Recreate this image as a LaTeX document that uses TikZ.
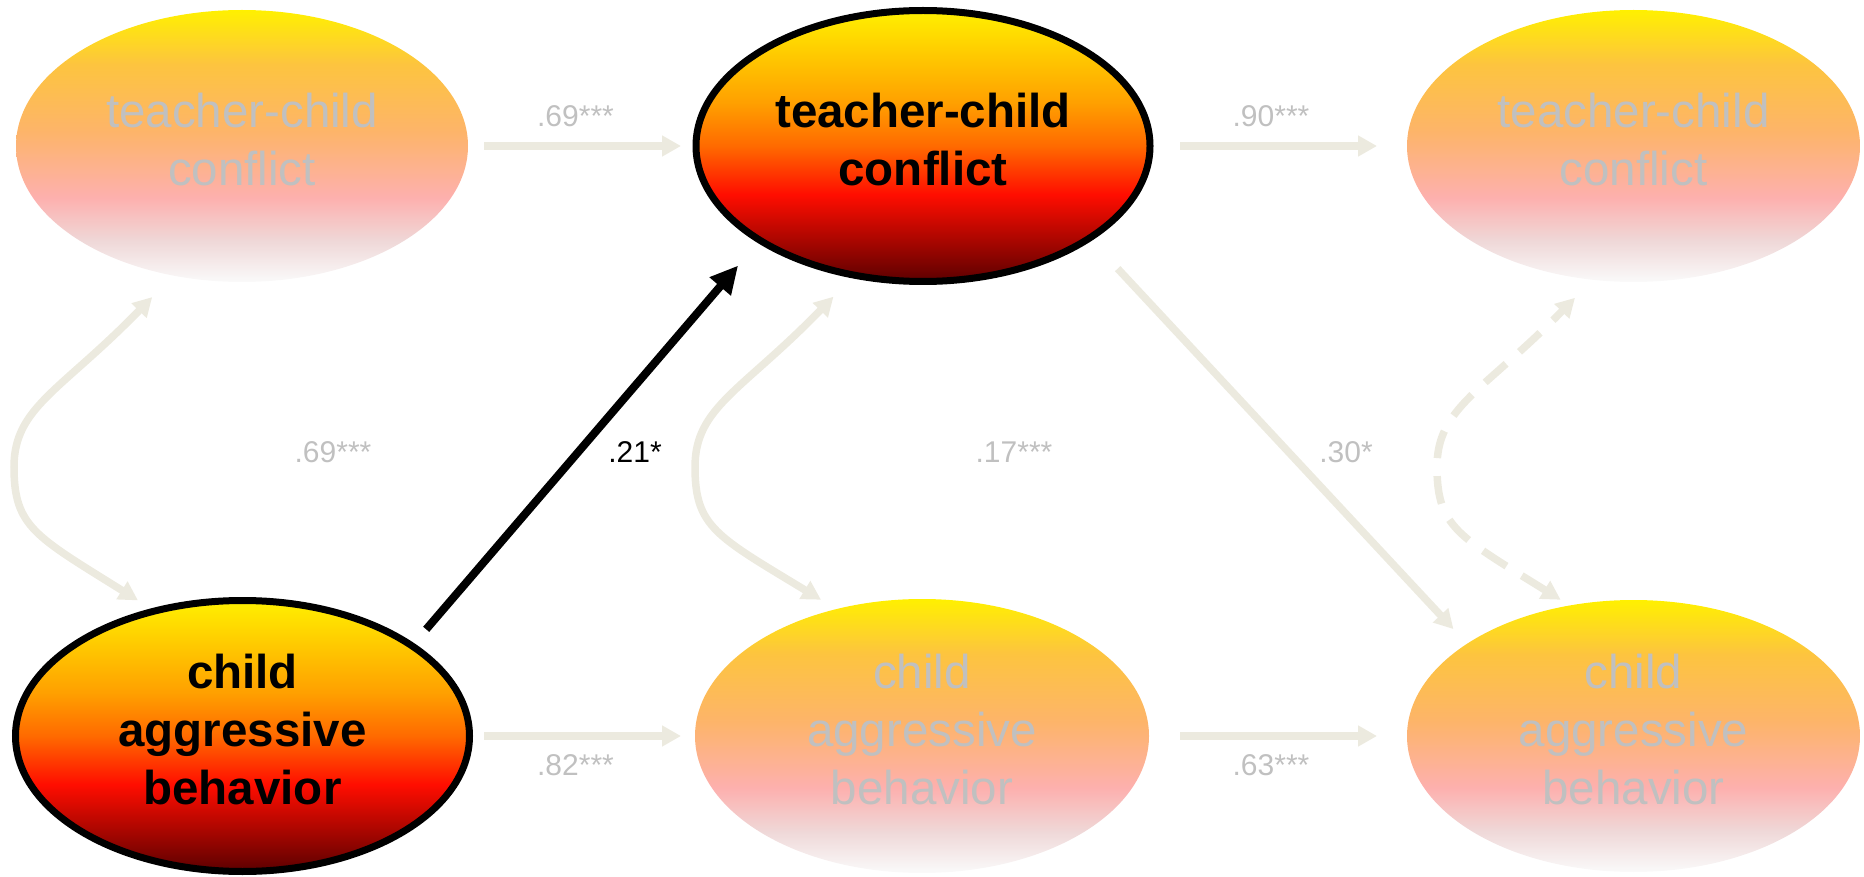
\documentclass[tikz,border=0pt]{standalone}
\usepackage{fontspec}
\setmainfont{Liberation Sans}
\usetikzlibrary{shapes.geometric,arrows.meta}
\definecolor{arrowgray}{HTML}{ECEADF}
\definecolor{txtgray}{HTML}{C0C0C0}
\definecolor{bY}{HTML}{FFF000}
\definecolor{bO}{HTML}{FFA000}
\definecolor{bO2}{HTML}{FF6A00}
\definecolor{bR}{HTML}{FF0D00}
\definecolor{bD}{HTML}{5C0000}
\definecolor{fY}{HTML}{FFF000}
\definecolor{fA}{HTML}{FDC43F}
\definecolor{fB}{HTML}{FDB46A}
\definecolor{fC}{HTML}{FDB0AE}
\definecolor{fD}{HTML}{EFD8D8}
\definecolor{fW}{HTML}{FAFAFA}
\pgfdeclareverticalshading{boldshade}{100bp}{color(0bp)=(bD); color(25bp)=(bD); color(41bp)=(bR); color(50bp)=(bO2); color(58bp)=(bO); color(75bp)=(bY); color(100bp)=(bY)}
\pgfdeclareverticalshading{fadedshade}{100bp}{color(0bp)=(fW); color(25bp)=(fW); color(32.5bp)=(fD); color(40.5bp)=(fC); color(52.5bp)=(fB); color(65bp)=(fA); color(75bp)=(fY); color(100bp)=(fY)}
\tikzset{
  fadedvar/.style={ellipse, shade, shading=fadedshade, minimum width=226pt, minimum height=136pt,
    inner sep=0pt, outer sep=0pt, text=txtgray, align=center, font=\fontsize{23.75}{29}\selectfont},
  boldvar/.style={ellipse, shade, shading=boldshade, draw=black, line width=3.5pt, minimum width=227pt,
    minimum height=135.5pt, inner sep=0pt, outer sep=0pt, align=center, font=\fontsize{23.75}{29}\selectfont\bfseries},
  conn/.style={draw=arrowgray, line width=3.75pt, -{Triangle[length=9.5pt,width=10pt]}},
  conntwo/.style={draw=arrowgray, line width=3.75pt, {Triangle[length=9.5pt,width=10pt]}-{Triangle[length=9.5pt,width=10pt]}},
  dashconn/.style={conntwo, dash pattern=on 14pt off 9pt},
  keyarrow/.style={draw=black, line width=4pt, -{Triangle[length=13.8pt,width=13.2pt]}},
  lbl/.style={font=\fontsize{15}{18}\selectfont, text=txtgray, anchor=base, inner sep=0pt},
}
\newcommand{\lowpad}{\rule[-7pt]{0pt}{7pt}}
\begin{document}
\begin{tikzpicture}[x=0.5pt, y=-0.5pt]
\useasboundingbox (0,0) rectangle (1864,877);
% nodes
\node[fadedvar] (tl) at (242,146) {teacher-child\\conflict\lowpad};
\node[boldvar] (tm) at (923,146) {teacher-child\\conflict\lowpad};
\node[fadedvar, minimum width=226.5pt] (tr) at (1633.5,146) {teacher-child\\conflict\lowpad};
\node[boldvar] (bl) at (242.5,736) {child\\aggressive\\behavior\lowpad};
\node[fadedvar, minimum width=227pt, minimum height=137pt] (bm) at (922,736) {child\\aggressive\\behavior\lowpad};
\node[fadedvar, minimum width=226.5pt] (br) at (1633.5,736) {child\\aggressive\\behavior\lowpad};
% straight paths
\draw[conn, shorten <=8pt, shorten >=7.5pt] (tl) -- (tm);
\draw[conn, shorten <=15pt, shorten >=15pt] (tm) -- (tr);
\draw[conn, shorten <=7.25pt, shorten >=7pt] (bl) -- (bm);
\draw[conn, shorten <=15.5pt, shorten >=15pt] (bm) -- (br);
\draw[conn, shorten <=20.8pt, shorten >=10pt] (tm.331.9) -- (br.151.5);
% correlations
\draw[conntwo, shorten <=10pt, shorten >=15pt] (bl.125.5) .. controls (35,536) and (14,527) .. (14,467)
   .. controls (14,407) and (61,391) .. (tl.242);
\draw[conntwo, shorten <=9pt, shorten >=15pt] (bm.124.7) .. controls (716,536) and (695,527) .. (695,467)
   .. controls (695,407) and (742,391) .. (tm.242.3);
\draw[dashconn, shorten <=5.4pt, shorten >=12.6pt] (br.116.2) .. controls (1458,536) and (1437,527) .. (1437,467)
   .. controls (1437,407) and (1484,391) .. (tr.253);
% key path
\draw[keyarrow, shorten <=10.9pt, shorten >=16.7pt] (bl.28.7) -- (tm.210.9);
% labels
\node[lbl] (l1) at (575.5,127) {.69***};
\node[lbl] (l2) at (1271,127) {.90***};
\node[lbl] (l3) at (575.5,775) {.82***};
\node[lbl] (l4) at (1271,775) {.63***};
\node[lbl] (l5) at (333,462) {.69***};
\node[lbl, text=black] (l6) at (635,462) {.21*};
\node[lbl] (l7) at (1014,462) {.17***};
\node[lbl] (l8) at (1346,462) {.30*};
\end{tikzpicture}
\end{document}
